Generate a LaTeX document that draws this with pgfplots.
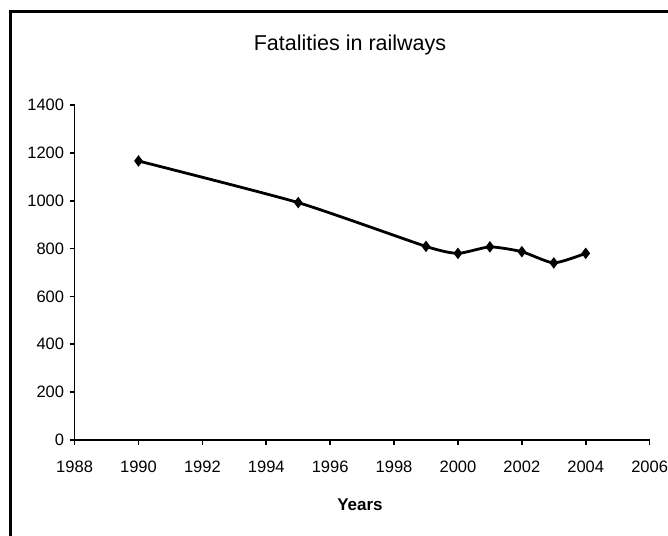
\documentclass[border=0pt]{standalone}
\usepackage{fontspec}
\setmainfont{Liberation Sans}
\usepackage{pgfplots}
\pgfplotsset{compat=1.18}
\begin{document}
\begin{tikzpicture}[x=1bp,y=1bp]
\useasboundingbox (0,0) rectangle (668,536);
\draw[line width=2.2bp] (10.5,0) -- (10.5,524.5) -- (668,524.5);
\begin{axis}[
  at={(74.6bp,96bp)}, anchor=south west,
  scale only axis, width=575bp, height=335bp,
  xmin=1988, xmax=2006, ymin=0, ymax=1400,
  axis lines=left,
  axis line style={-, line width=1.6bp},
  xtick={1988,1990,...,2006},
  ytick={0,200,...,1400},
  tick align=outside,
  major tick length=5bp,
  tick style={line width=1.6bp, black},
  /pgf/number format/assume math mode=true,
  xticklabel={\pgfmathprintnumber[1000 sep={}]{\tick}},
  scaled ticks=false,
  yticklabel style={/pgf/number format/1000 sep={}},
  ticklabel style={font=\fontsize{16.5bp}{19bp}\selectfont},
  xticklabel style={yshift=-12bp},
  yticklabel style={xshift=-2bp},
  title={Fatalities in railways},
  title style={at={(axis description cs:0.479,1.161)}, anchor=center, yshift=0pt, font=\fontsize{21.5bp}{25bp}\selectfont},
  xlabel={Years},
  xlabel style={at={(axis description cs:0.4963,-0.1925)}, anchor=center, font=\fontsize{17bp}{20bp}\selectfont\bfseries},
  clip=false,
]
\addplot[black, line width=2.8bp, smooth, tension=0.35, mark=diamond*, mark size=3.5bp, mark options={solid}]
  coordinates {
    (1990,1166) (1995,992) (1999,809) (2000,780) (2001,807) (2002,787) (2003,740) (2004,780)
  };
\end{axis}
\end{tikzpicture}
\end{document}
